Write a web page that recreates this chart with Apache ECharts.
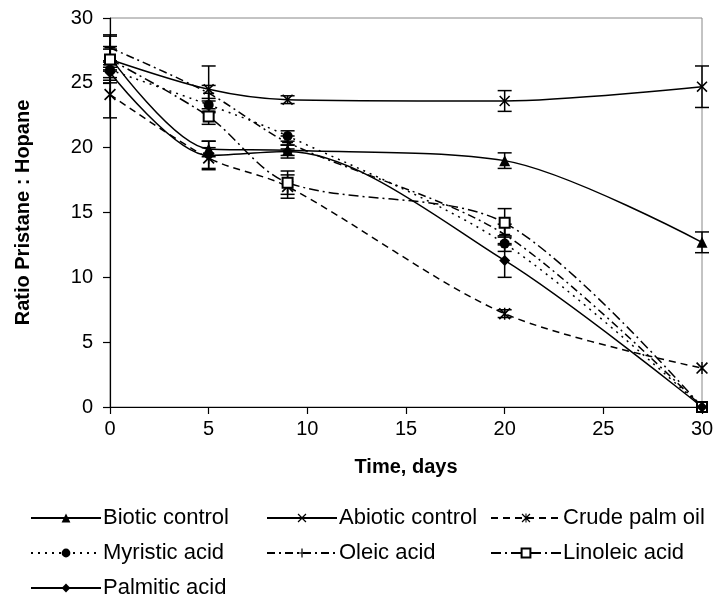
<!DOCTYPE html>
<html>
<head>
<meta charset="utf-8">
<title>Ratio Pristane : Hopane</title>
<script src="https://cdn.jsdelivr.net/npm/echarts/dist/echarts.min.js"></script>
<style>
  html, body { margin: 0; padding: 0; background: #fff; }
  #myChart { width: 719px; height: 602px; }
</style>
</head>
<body>
<div id="myChart"></div>
<script>
var days = [0, 5, 9, 20, 30];

var biotic = [27.0, 19.9, 19.8, 19.0, 12.7];
var abiotic = [26.8, 24.5, 23.7, 23.6, 24.7];
var crudePalm = [24.1, 19.2, 17.0, 7.2, 3.0];
var myristic = [26.0, 23.3, 20.9, 12.6, 0];
var oleic = [27.7, 24.2, 20.4, 13.3, 0];
var linoleic = [26.8, 22.4, 17.3, 14.2, 0];
var palmitic = [25.8, 19.4, 19.7, 11.3, 0];

// half-length of the error bars
var bioticErr = [0.8, 0.6, 0.4, 0.6, 0.8];
var abioticErr = [1.8, 1.8, 0.3, 0.8, 1.6];
var crudePalmErr = [1.8, 0.8, 0.9, 0.3, 0];
var myristicErr = [0.6, 0.5, 0.4, 0.6, 0];
var oleicErr = [1.0, 0.6, 0.5, 0.8, 0];
var linoleicErr = [0.8, 0.6, 0.9, 1.1, 0];
var palmiticErr = [0.6, 1.1, 0.5, 1.3, 0];

var yTicks = [0, 5, 10, 15, 20, 25, 30];

var xSym = 'path://M0,1L1,0L5,4L9,0L10,1L6,5L10,9L9,10L5,6L1,10L0,9L4,5Z';
var starSym = 'path://M0,1L1,0L5,4L9,0L10,1L6,5L10,9L9,10L5,6L1,10L0,9L4,5ZM4.4,0L5.6,0L5.6,10L4.4,10Z';
var plusSym = 'path://M4.3,0L5.7,0L5.7,4.3L10,4.3L10,5.7L5.7,5.7L5.7,10L4.3,10L4.3,5.7L0,5.7L0,4.3L4.3,4.3Z';

var fontName = '"Liberation Sans", Arial, sans-serif';

var seriesDefs = [
    {name: 'Biotic control', data: biotic, err: bioticErr, symbol: 'triangle', size: 11, dash: 'solid'},
    {name: 'Abiotic control', data: abiotic, err: abioticErr, symbol: xSym, size: 11, dash: 'solid'},
    {name: 'Crude palm oil', data: crudePalm, err: crudePalmErr, symbol: starSym, size: 12, dash: [7, 5]},
    {name: 'Myristic acid', data: myristic, err: myristicErr, symbol: 'circle', size: 10, dash: [2, 5]},
    {name: 'Oleic acid', data: oleic, err: oleicErr, symbol: plusSym, size: 11, dash: [8, 4, 2, 4]},
    {name: 'Linoleic acid', data: linoleic, err: linoleicErr, symbol: 'emptyRect', size: 10, dash: [10, 4, 2, 4]},
    {name: 'Palmitic acid', data: palmitic, err: palmiticErr, symbol: 'diamond', size: 11, dash: 'solid'}
];

function renderErrorBar(params, api) {
    var x = api.value(0);
    var top = api.coord([x, api.value(2)]);
    var bottom = api.coord([x, api.value(1)]);
    var half = 7;
    var style = {stroke: '#000', lineWidth: 1.5};
    return {
        type: 'group',
        children: [
            {type: 'line', shape: {x1: top[0], y1: top[1], x2: bottom[0], y2: bottom[1]}, style: style},
            {type: 'line', shape: {x1: top[0] - half, y1: top[1], x2: top[0] + half, y2: top[1]}, style: style},
            {type: 'line', shape: {x1: bottom[0] - half, y1: bottom[1], x2: bottom[0] + half, y2: bottom[1]}, style: style}
        ]
    };
}

var series = [];
seriesDefs.forEach(function (s) {
    var bars = [];
    for (var i = 0; i < days.length; i++) {
        if (s.err[i] > 0) {
            bars.push([days[i], s.data[i] - s.err[i], s.data[i] + s.err[i]]);
        }
    }
    series.push({
        name: s.name + ' err',
        type: 'custom',
        renderItem: renderErrorBar,
        data: bars,
        silent: true,
        z: 1
    });
});
seriesDefs.forEach(function (s) {
    series.push({
        name: s.name,
        type: 'line',
        data: days.map(function (d, i) { return [d, s.data[i]]; }),
        smooth: 0.3,
        symbol: s.symbol,
        symbolSize: s.size,
        showAllSymbol: true,
        lineStyle: {color: '#000', width: 1.5, type: s.dash},
        itemStyle: {color: '#000', borderColor: '#000', borderWidth: s.symbol === 'emptyRect' ? 1.2 : 0},
        emphasis: {disabled: true},
        z: 3
    });
});

function legendCol(left, names) {
    return {
        orient: 'vertical',
        left: left,
        top: 507,
        height: 95,
        padding: 0,
        itemWidth: 70,
        itemHeight: 11,
        itemGap: 13,
        selectedMode: false,
        textStyle: {fontFamily: fontName, fontSize: 22, color: '#000', padding: [0, 0, 0, -3]},
        data: names
    };
}

var option = {
    animation: false,
    backgroundColor: '#fff',
    grid: {
        left: 110,
        right: 17,
        top: 18,
        bottom: 195,
        show: true,
        borderColor: '#888',
        borderWidth: 1
    },
    legend: [
        legendCol(30, ['Biotic control', 'Myristic acid', 'Palmitic acid']),
        legendCol(266, ['Abiotic control', 'Oleic acid']),
        legendCol(490, ['Crude palm oil', 'Linoleic acid'])
    ],
    xAxis: {
        type: 'value',
        min: 0,
        max: 30,
        interval: 5,
        name: 'Time, days',
        nameLocation: 'middle',
        nameGap: 50,
        nameTextStyle: {fontFamily: fontName, fontSize: 20, fontWeight: 'bold', color: '#000'},
        axisLine: {lineStyle: {color: '#000', width: 1.2}},
        axisTick: {length: 7, lineStyle: {color: '#000', width: 1.2}},
        axisLabel: {fontFamily: fontName, fontSize: 20, color: '#000', margin: 12},
        splitLine: {show: false}
    },
    yAxis: {
        type: 'value',
        min: yTicks[0],
        max: yTicks[yTicks.length - 1],
        interval: 5,
        name: 'Ratio Pristane : Hopane',
        nameLocation: 'middle',
        nameGap: 77,
        nameTextStyle: {fontFamily: fontName, fontSize: 20, fontWeight: 'bold', color: '#000'},
        axisLine: {lineStyle: {color: '#000', width: 1.2}},
        axisTick: {length: 7, lineStyle: {color: '#000', width: 1.2}},
        axisLabel: {fontFamily: fontName, fontSize: 20, color: '#000', margin: 17},
        splitLine: {show: false}
    },
    series: series
};

var myCharts = echarts.init(document.getElementById('myChart'), null, {renderer: 'canvas'});
myCharts.setOption(option);
</script>
</body>
</html>
